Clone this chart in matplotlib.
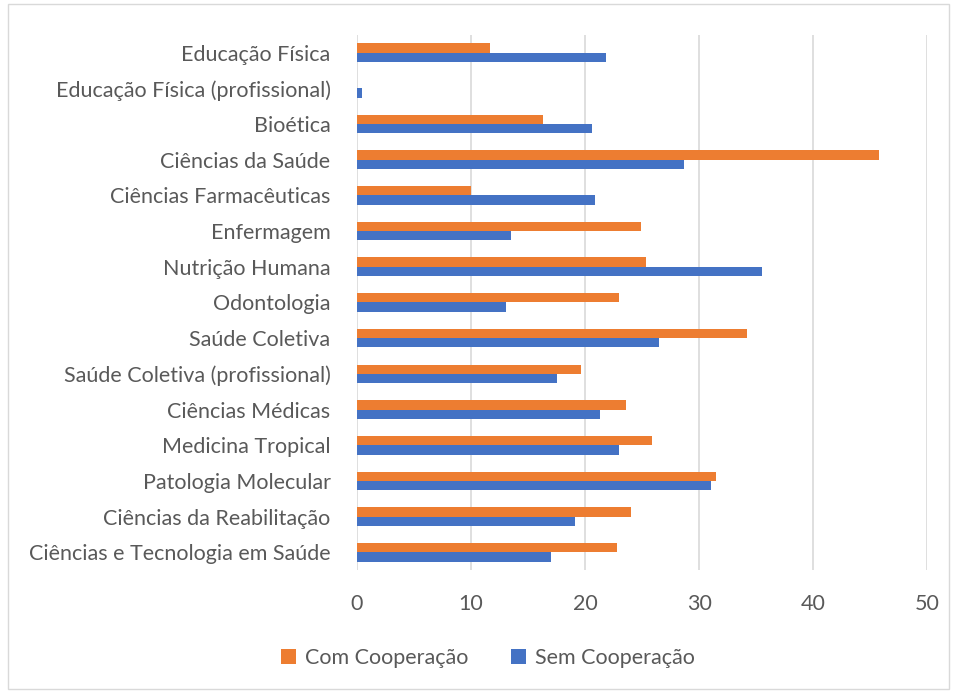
import matplotlib.pyplot as plt
from matplotlib.patches import Rectangle
import numpy as np

categories = [
    "Educação Física",
    "Educação Física (profissional)",
    "Bioética",
    "Ciências da Saúde",
    "Ciências Farmacêuticas",
    "Enfermagem",
    "Nutrição Humana",
    "Odontologia",
    "Saúde Coletiva",
    "Saúde Coletiva (profissional)",
    "Ciências Médicas",
    "Medicina Tropical",
    "Patologia Molecular",
    "Ciências da Reabilitação",
    "Ciências e Tecnologia em Saúde",
]
com_coop = [11.7, 0, 16.3, 45.8, 10.0, 24.9, 25.3, 23.0, 34.2, 19.6, 23.6, 25.9, 31.5, 24.0, 22.8]
sem_coop = [21.8, 0.45, 20.6, 28.7, 20.9, 13.5, 35.5, 13.1, 26.5, 17.5, 21.3, 23.0, 31.0, 19.1, 17.0]

plt.rcParams['font.family'] = ['Lato', 'DejaVu Sans']
text_color = "#595959"
orange = "#ED7D31"
blue = "#4472C4"

fig = plt.figure(figsize=(9.57, 6.93), dpi=100)
ax = fig.add_axes([0.373, 0.177, 0.596, 0.773])

y = np.arange(len(categories))
h = 0.26
ax.barh(y - h / 2, com_coop, height=h, color=orange, label="Com Cooperação", zorder=3)
ax.barh(y + h / 2, sem_coop, height=h, color=blue, label="Sem Cooperação", zorder=3)

ax.set_yticks(y)
ax.set_yticklabels(categories, fontsize=15.5, color=text_color)
ax.set_ylim(len(categories) - 0.5, -0.5)
ax.set_xlim(0, 50)
ax.set_xticks(range(0, 51, 10))
ax.tick_params(axis='x', labelsize=15.5, labelcolor=text_color, length=0, pad=17)
ax.tick_params(axis='y', length=0, pad=19)
ax.xaxis.grid(True, color="#d9d9d9", linewidth=1.2, zorder=0)
for s in ax.spines.values():
    s.set_visible(False)

fig.legend(loc="center", bbox_to_anchor=(0.51, 0.05), ncol=2, frameon=False,
           fontsize=15.5, labelcolor=text_color, handlelength=0.7, handleheight=0.7,
           handletextpad=0.4, columnspacing=2.0)

fig.patches.append(Rectangle((0.008, 0.006), 0.984, 0.988, transform=fig.transFigure,
                             fill=False, edgecolor="#d9d9d9", linewidth=1))

plt.savefig("out.png", dpi=100)
